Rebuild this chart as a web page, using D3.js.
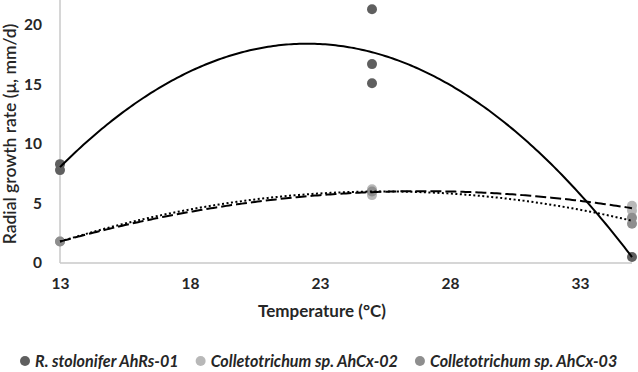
<!DOCTYPE html>
<html><head><meta charset="utf-8">
<script src="https://cdn.jsdelivr.net/npm/d3@7"></script>
<style>body{margin:0;background:#fff}svg{display:block}text{font-family:Lato,"Open Sans",sans-serif}</style>
</head><body><svg id="c" width="638" height="372"></svg>
<script>
const seriesNames = ["R. stolonifer AhRs-01", "Colletotrichum sp. AhCx-02", "Colletotrichum sp. AhCx-03"];
const colors = ["#5f5f5f", "#b8b8b8", "#8e8e8e"];
const dashes = [null, "11,4", "2,2.5"];
const rsTemp = [13, 13, 25, 25, 25, 35];
const rsRate = [7.8, 8.3, 21.3, 16.7, 15.1, 0.5];
const cx2Temp = [13, 25, 25, 35, 35];
const cx2Rate = [1.8, 5.7, 6.2, 4.8, 4.4];
const cx3Temp = [13, 25, 35, 35];
const cx3Rate = [1.8, 6.0, 3.8, 3.3];
const xTicks = [13, 18, 23, 28, 33];
const yTicks = [0, 5, 10, 15, 20];

const series = [
  {name: seriesNames[0], t: rsTemp, v: rsRate},
  {name: seriesNames[1], t: cx2Temp, v: cx2Rate},
  {name: seriesNames[2], t: cx3Temp, v: cx3Rate}
];

// least squares quadratic (Excel polynomial trendline, order 2)
function polyFit(xs, ys) {
  let S = [0,0,0,0,0], T = [0,0,0];
  xs.forEach((x,i) => { for (let k=0;k<5;k++) S[k]+=Math.pow(x,k); for (let k=0;k<3;k++) T[k]+=ys[i]*Math.pow(x,k); });
  const A = [[S[0],S[1],S[2],T[0]],[S[1],S[2],S[3],T[1]],[S[2],S[3],S[4],T[2]]];
  for (let i=0;i<3;i++){ for (let j=i+1;j<3;j++){ const f=A[j][i]/A[i][i]; for(let k=i;k<4;k++) A[j][k]-=f*A[i][k]; } }
  const c=[0,0,0];
  for (let i=2;i>=0;i--){ let s=A[i][3]; for(let k=i+1;k<3;k++) s-=A[i][k]*c[k]; c[i]=s/A[i][i]; }
  return x => c[0]+c[1]*x+c[2]*x*x;
}

const svg = d3.select("#c");
const x = d3.scaleLinear().domain([13, 35]).range([60, 632]);
const y = d3.scaleLinear().domain([0, 22]).range([263, 1]);

svg.append("line").attr("x1", x(13)).attr("x2", x(35)).attr("y1", y(0)).attr("y2", y(0)).attr("stroke", "#c8c8c8").attr("stroke-width", 1.5);
svg.append("line").attr("x1", x(13)).attr("x2", x(13)).attr("y1", y(0)).attr("y2", 0).attr("stroke", "#c8c8c8").attr("stroke-width", 1.5);

const xa = svg.append("g").attr("transform", `translate(0,${y(0)})`).call(d3.axisBottom(x).tickValues(xTicks).tickSize(0).tickPadding(15).tickFormat(d3.format("d")));
xa.select(".domain").remove();
xa.selectAll("text").attr("font-size", 15.5).attr("font-weight", "bold").attr("fill", "#262626").attr("font-family", "Lato");
const ya = svg.append("g").attr("transform", `translate(${x(13)},0)`).call(d3.axisLeft(y).tickValues(yTicks).tickSize(0).tickPadding(18));
ya.select(".domain").remove();
ya.selectAll("text").attr("font-size", 15.5).attr("font-weight", "bold").attr("fill", "#262626").attr("font-family", "Lato");

svg.append("text").attr("x", 322).attr("y", 317).attr("text-anchor", "middle").attr("font-size", 17).attr("font-weight", "bold").attr("fill", "#262626").text("Temperature (°C)");
svg.append("text").attr("transform", "translate(16,134) rotate(-90)").attr("text-anchor", "middle").attr("font-size", 17.5).attr("font-weight", 600).attr("fill", "#262626").text("Radial growth rate (μ, mm/d)");

series.forEach((s, i) => {
  svg.append("g").selectAll("circle").data(s.t.map((t, j) => [t, s.v[j]])).join("circle")
    .attr("cx", d => x(d[0])).attr("cy", d => y(d[1])).attr("r", 5).attr("fill", colors[i]);
});

const line = d3.line().x(d => x(d[0])).y(d => y(d[1]));
series.forEach((s, i) => {
  const f = polyFit(s.t, s.v);
  const pts = d3.range(13, 35.001, 0.1).map(t => [t, f(t)]);
  svg.append("path").attr("d", line(pts)).attr("fill", "none").attr("stroke", "#000")
    .attr("stroke-width", 2).attr("stroke-dasharray", dashes[i]);
});

// legend: fit total width to the reference span (x 20 .. 618)
const lg = svg.append("g");
const items = series.map((s, i) => {
  const c = lg.append("circle").attr("cy", 361).attr("r", 5).attr("fill", colors[i]);
  const t = lg.append("text").attr("y", 367).attr("font-size", 16).attr("font-weight", "bold").attr("font-style", "italic").attr("fill", "#262626").text(s.name);
  return {c, t};
});
const w0 = d3.sum(items, d => d.t.node().getComputedTextLength());
const avail = (618 - 20) - 3 * 15 - 2 * 17;
const fs = 16 * avail / w0;
let lx = 20;
items.forEach(d => {
  d.t.attr("font-size", fs);
  d.c.attr("cx", lx + 5);
  d.t.attr("x", lx + 15);
  lx += 15 + d.t.node().getComputedTextLength() + 17;
});
</script></body></html>
